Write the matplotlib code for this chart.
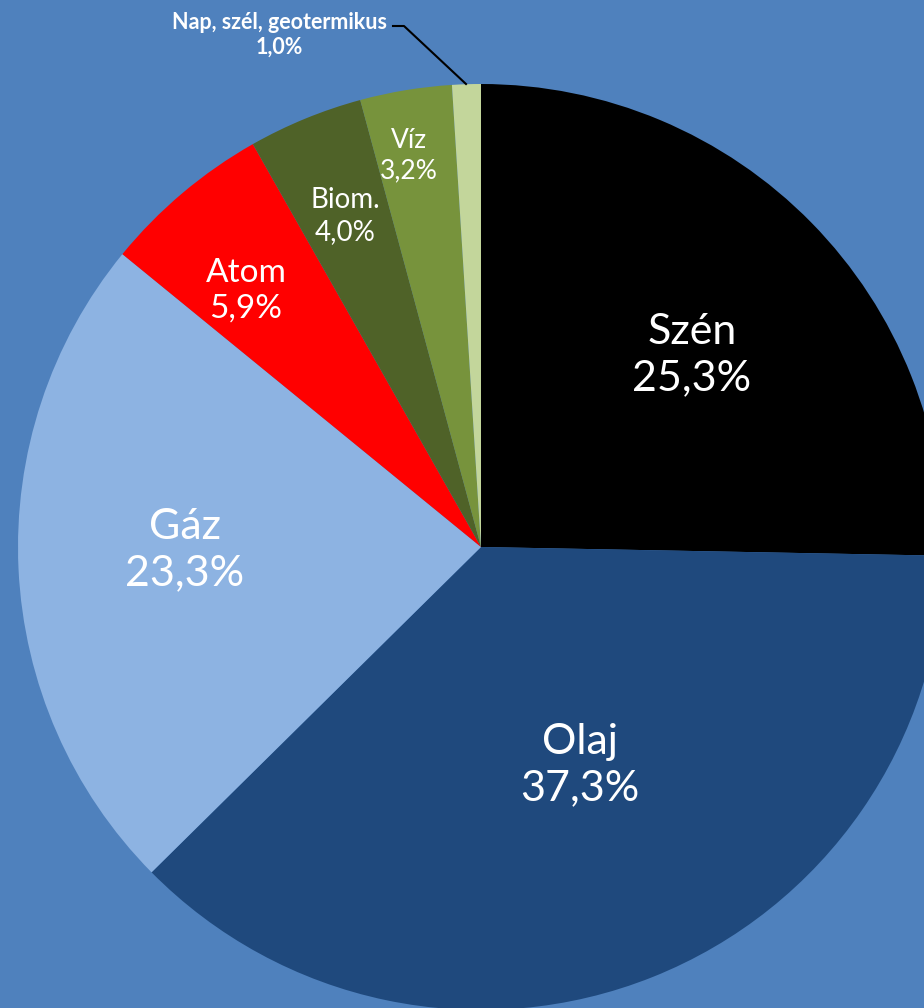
import matplotlib
matplotlib.use("Agg")
import matplotlib.pyplot as plt

categories = ["Szén", "Olaj", "Gáz", "Atom", "Biom.", "Víz", "Nap, szél, geotermikus"]
values = [25.3, 37.3, 23.3, 5.9, 4.0, 3.2, 1.0]
value_labels = ["25,3%", "37,3%", "23,3%", "5,9%", "4,0%", "3,2%", "1,0%"]
colors = ["#000000", "#1F497D", "#8DB3E2", "#FF0000", "#4F6228", "#77933C", "#C3D69B"]

W, H = 924, 1008
fig = plt.figure(figsize=(W / 100, H / 100), dpi=100)
fig.patch.set_facecolor("#4F81BD")
ax = fig.add_axes([0, 0, 1, 1])
ax.set_facecolor("#4F81BD")

cx, cy, r = 481, H - 547, 463
ax.pie(values, colors=colors, startangle=90, counterclock=False,
       center=(cx, cy), radius=r, frame=True,
       wedgeprops=dict(linewidth=0))
ax.set_xlim(0, W)
ax.set_ylim(0, H)
ax.set_aspect("equal")
ax.axis("off")

font = ["Lato", "DejaVu Sans"]
# label positions (pixel coords from top) and sizes
pos = [(692, 355, 31), (580, 765, 31), (185, 550, 31), (246, 291, 24),
       (345, 216, 20), (409, 156, 19)]
for i, (x, y, fs) in enumerate(pos):
    ax.text(x, H - y, categories[i] + "\n" + value_labels[i], ha="center", va="center",
            color="white", fontsize=fs, family=font, linespacing=1.25)

ax.text(279, H - 35, categories[6] + "\n" + value_labels[6], ha="center", va="center",
        color="white", fontsize=15.5, family=font, fontweight="bold", linespacing=1.2)
ax.plot([393, 404, 466], [H - 26, H - 26, H - 84], color="black", linewidth=1.5)

fig.savefig("out.png", dpi=100, facecolor=fig.get_facecolor())
